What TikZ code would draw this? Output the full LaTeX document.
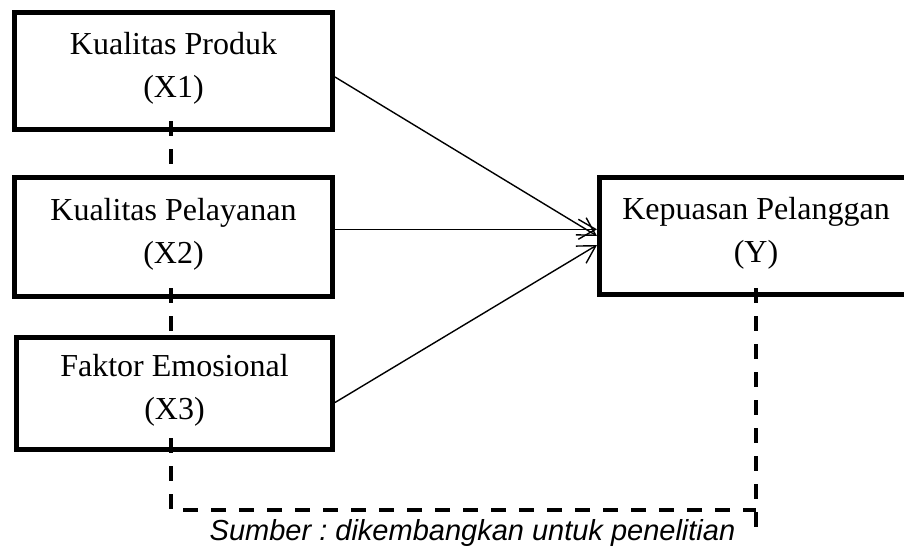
\documentclass[tikz,border=0pt]{standalone}
\usepackage{fontspec}
\setmainfont{Liberation Serif}
\newfontfamily\capfont{Liberation Sans}
\usetikzlibrary{arrows.meta,calc}
\tikzset{
  varbox/.style={draw, line width=4.6pt, inner sep=0pt, align=center,
    font=\fontsize{32}{43}\selectfont},
  link/.style={line width=1.4pt, -{Straight Barb[angle=60:20pt]}},
  dashline/.style={line width=3.8pt, dash pattern=on 15pt off 13pt}
}
\begin{document}
\begin{tikzpicture}[x=1pt,y=-1pt]
\useasboundingbox (0,0) rectangle (904,546);
\fill[white] (0,0) rectangle (904,546);
\node[varbox, minimum width=318.4pt, minimum height=117.4pt] (x1) at (173.5,71) {Kualitas Produk\\(X1)\strut};
\node[varbox, minimum width=318.4pt, minimum height=119.4pt] (x2) at (173.5,237) {Kualitas Pelayanan\\(X2)\strut};
\node[varbox, minimum width=316.4pt, minimum height=112.4pt] (x3) at (174.5,393.5) {Faktor Emosional\\(X3)\strut};
\node[varbox, minimum width=313.4pt, minimum height=117.4pt] (y) at (756,236) {Kepuasan Pelanggan\\(Y)\strut};
% arrows
\coordinate (s1) at ($(x1.east)+(0,6)$);
\coordinate (s2) at ($(x2.east)+(0,-7.7)$);
\coordinate (s3) at ($(x3.east)+(0,9)$);
\coordinate (e3) at ($(y.west)+(0,9)$);
\draw[link] (s1) -- (y.west);
\draw[link] (s2) -- (s2 -| y.west);
\draw[link] (s3) -- (e3);
% dashed links
\coordinate (c1) at (756,510);
\coordinate (c2) at (756,527);
\draw[dashline] ($(x1.south)+(-2.5,-11)$) -- ($(x2.north)+(-2.5,0)$);
\draw[dashline] ($(x2.south)+(-2.5,-11)$) -- ($(x3.north)+(-3.5,0)$);
\draw[dashline] ($(x3.south)+(-3.5,-14)$) |- (c1);
\draw[dashline] ($(y.south)+(0,-9)$) -- (c2);
\node[anchor=base, inner sep=0pt, font=\capfont\itshape\fontsize{29}{34}\selectfont] (cap) at (472.5,540) {\frenchspacing Sumber : dikembangkan untuk penelitian};
\end{tikzpicture}
\end{document}
